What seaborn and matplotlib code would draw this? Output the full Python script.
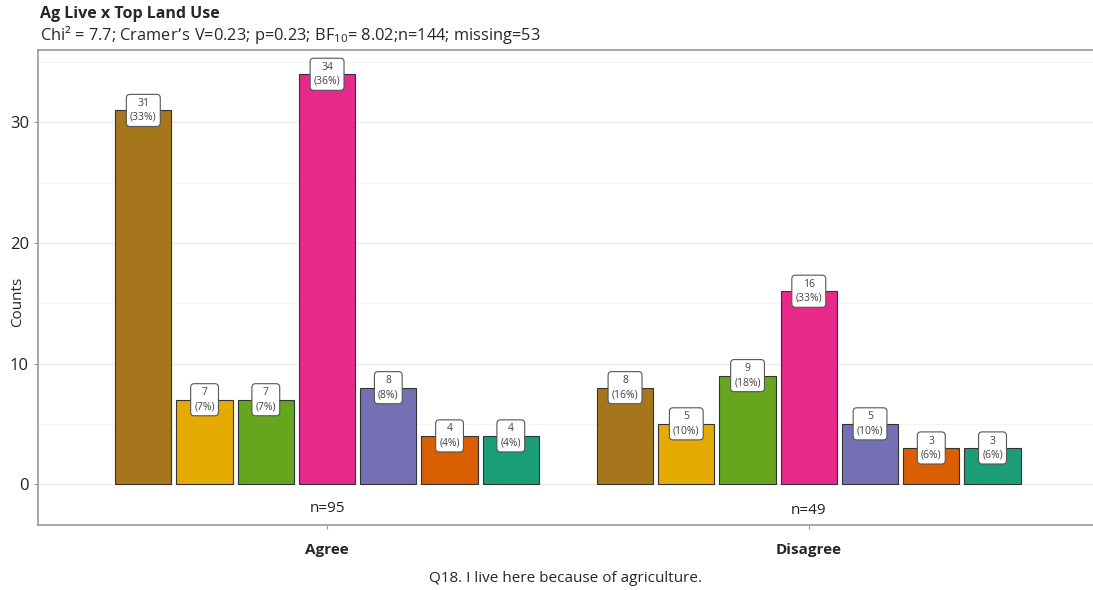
import pandas as pd
import seaborn as sns
import matplotlib.pyplot as plt
from matplotlib.ticker import MultipleLocator

RESPONSES = ["Agree", "Disagree"]
LAND_USES = ["Use 1", "Use 2", "Use 3", "Use 4", "Use 5", "Use 6", "Use 7"]
AGREE_COUNTS = [31, 7, 7, 34, 8, 4, 4]
DISAGREE_COUNTS = [8, 5, 9, 16, 5, 3, 3]
AGREE_PCT = [33, 7, 7, 36, 8, 4, 4]
DISAGREE_PCT = [16, 10, 18, 33, 10, 6, 6]
GROUP_N = [95, 49]
COLORS = ["#A6761D", "#E6AB02", "#66A61E", "#E7298A", "#7570B3", "#D95F02", "#1B9E77"]

TITLE = "Ag Live x Top Land Use"
SUBTITLE = "Chi² = 7.7; Cramer’s V=0.23; p=0.23; BF$_{10}$= 8.02;n=144; missing=53"
XLABEL = "Q18. I live here because of agriculture."

df = pd.DataFrame({
    "Response": [RESPONSES[0]] * 7 + [RESPONSES[1]] * 7,
    "Land": LAND_USES * 2,
    "Counts": AGREE_COUNTS + DISAGREE_COUNTS,
    "Pct": AGREE_PCT + DISAGREE_PCT,
})

sns.set_style("white")
plt.rcParams["font.family"] = ["Open Sans", "DejaVu Sans"]
plt.rcParams["mathtext.default"] = "regular"

fig = plt.figure(figsize=(10.93, 5.90), dpi=100)
ax = fig.add_axes([0.0348, 0.110, 0.9652, 0.805])

sns.barplot(data=df, x="Response", y="Counts", hue="Land", hue_order=LAND_USES,
            order=RESPONSES, palette=COLORS, saturation=1, width=0.89, gap=0.08,
            edgecolor="#333333", linewidth=0.8, legend=False, ax=ax)

# boxed count labels
for i, land in enumerate(LAND_USES):
    for j, resp in enumerate(RESPONSES):
        row = df[(df.Land == land) & (df.Response == resp)].iloc[0]
        p = ax.containers[i][j]
        x = p.get_x() + p.get_width() / 2
        ax.text(x, row.Counts, f"{row.Counts}\n({row.Pct}%)", ha="center", va="center",
                fontsize=7.5, color="#444444", linespacing=1.35,
                bbox=dict(boxstyle="round,pad=0.35", fc="white", ec="#555555", lw=0.8))

for j, n in enumerate(GROUP_N):
    ax.text(j, -2.0 - 0.2 * j, f"n={n}", ha="center", va="center", fontsize=11, color="#222222")

ax.set_ylim(-3.4, 36)
ax.set_xlim(-0.6, 1.59)
ax.yaxis.set_major_locator(MultipleLocator(10))
ax.yaxis.set_minor_locator(MultipleLocator(5))
ax.grid(True, which="major", axis="y", color="#ebebeb", lw=0.9)
ax.grid(True, which="minor", axis="y", color="#f4f4f4", lw=0.8)
ax.set_axisbelow(True)

for s in ["left", "top", "bottom"]:
    ax.spines[s].set_color("#999999")
    ax.spines[s].set_linewidth(1.2)
ax.spines["right"].set_visible(False)

ax.tick_params(axis="y", which="major", length=3, color="#999999", labelsize=12, labelcolor="#222222", left=True)
ax.tick_params(axis="y", which="minor", length=0)
ax.tick_params(axis="x", length=3, color="#999999", labelsize=11, pad=10, bottom=True)
for lbl in ax.get_xticklabels():
    lbl.set_fontweight("bold")

ax.set_ylabel("Counts", fontsize=11)
ax.yaxis.set_label_coords(-0.012, 0.47)
ax.set_xlabel(XLABEL, fontsize=11, labelpad=10)

fig.text(0.037, 0.976, TITLE, fontsize=11.5, fontweight="bold", va="center", ha="left")
fig.text(0.037, 0.94, SUBTITLE, fontsize=11.8, va="center", ha="left")

fig.savefig("out.png", dpi=100)
